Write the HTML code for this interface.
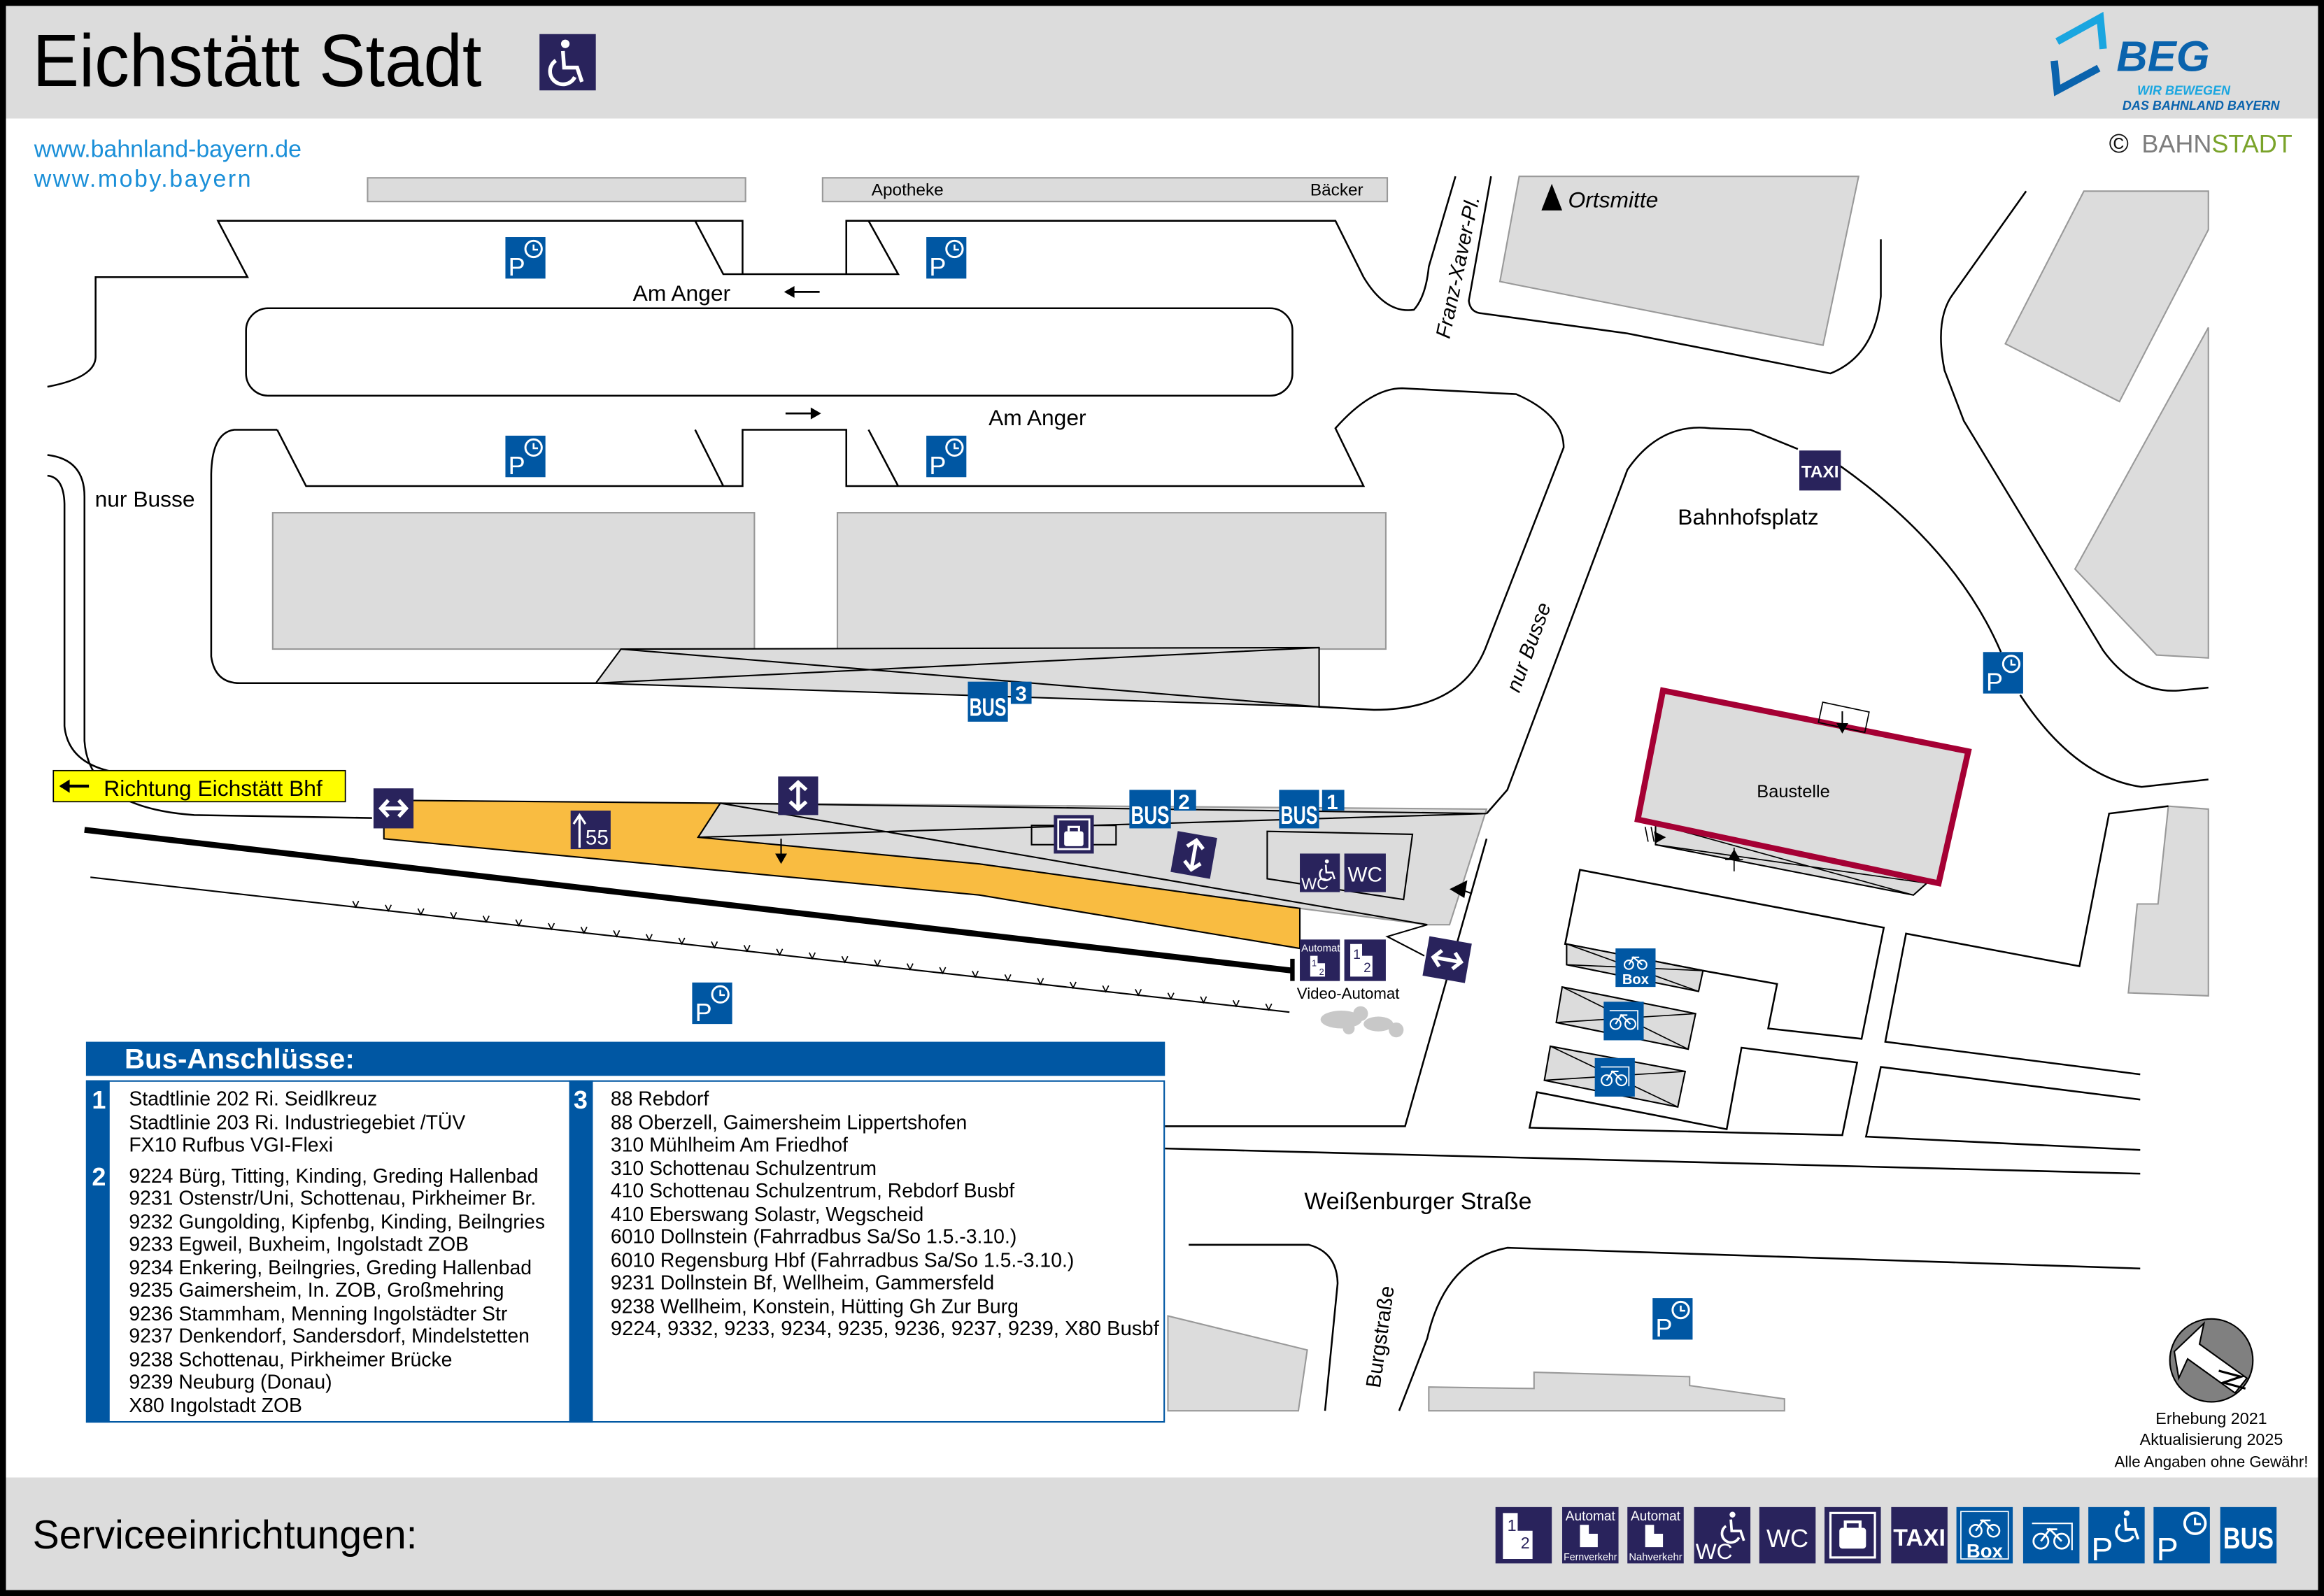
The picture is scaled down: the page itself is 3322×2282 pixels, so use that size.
<!DOCTYPE html>
<html><head><meta charset="utf-8"><style>
html,body{margin:0;padding:0;background:#fff}
svg{display:block}
text{font-family:"Liberation Sans",sans-serif}
</style></head><body>
<svg width="3322" height="2282" viewBox="0 0 1568 1077" preserveAspectRatio="none" xmlns="http://www.w3.org/2000/svg">
<rect x="0" y="0" width="1568" height="1077" fill="#fff"/>
<rect x="4" y="4" width="1560" height="76" fill="#dcdcdc"/>
<rect x="4" y="997" width="1560" height="76" fill="#dcdcdc"/>
<rect x="2" y="2" width="1564" height="1073" fill="none" stroke="#000" stroke-width="4"/>

<text x="22" y="58" font-size="50" textLength="303" lengthAdjust="spacingAndGlyphs" fill="#000">Eichstätt Stadt</text>
<rect x="364" y="23" width="38" height="38" fill="#29235c"/>
<g transform="translate(383,44) scale(1.6)" fill="none" stroke="#fff" stroke-width="1.6">
<circle cx="-1" cy="-9" r="1.8" fill="#fff" stroke="none"/>
<path d="M-2,-6 L-1.5,1 L4,1 L6,7"/>
<path d="M-5,-2 A5.5,5.5 0 1 0 3,5"/>
</g>

<polyline points="1388,28 1417,12 1419,33" fill="none" stroke="#1aa6e0" stroke-width="5"/>
<polyline points="1386,41 1388,61 1416,46" fill="none" stroke="#0a63ad" stroke-width="5"/>
<text x="1428" y="48" font-size="29" font-weight="bold" font-style="italic" fill="#0a63ad">BEG</text>
<text x="1442" y="64" font-size="8.5" font-weight="bold" font-style="italic" fill="#1aa6e0">WIR BEWEGEN</text>
<text x="1432" y="74" font-size="8.5" font-weight="bold" font-style="italic" fill="#0a63ad">DAS BAHNLAND BAYERN</text>
<text x="1423" y="103" font-size="18" fill="#111">©</text>
<text x="1445" y="103" font-size="17" fill="#7d7d7d">BAHN<tspan fill="#7aa32a">STADT</tspan></text>

<text x="23" y="106" font-size="16" fill="#1a8fd8">www.bahnland-bayern.de</text>
<text x="23" y="126" font-size="16" fill="#1a8fd8" letter-spacing="1.2">www.moby.bayern</text>

<rect x="248" y="120" width="255" height="16" fill="#dcdcdc" stroke="#999" stroke-width="1"/>
<rect x="555" y="120" width="381" height="16" fill="#dcdcdc" stroke="#999" stroke-width="1"/>
<text x="588" y="132" font-size="11.5">Apotheke</text>
<text x="884" y="132" font-size="11.5">Bäcker</text>

<g fill="none" stroke="#000" stroke-width="1.2">
<path d="M32,261 Q64,255 64.5,241 L64.5,187 L167,187 L147,149 L501,149 L501,185"/>
<path d="M469,149 L488,185 L606,185 L586,149"/>
<path d="M571,185 L571,149 L901,149 L920,187 Q935,212 954,209 Q962,200 964,180 L982,119"/>
<rect x="166" y="208" width="706" height="59" rx="15"/>
<path d="M187,290 L158,290 Q143,292 142.5,320 L142.5,443 Q145,461 162,461 L402,461"/>
<path d="M187,290 L206.5,328 L501,328 L501,290 L571,290 L571,328 L920,328 L901,289 Q925,262 946,262 L1023,266 Q1055,280 1055,302 L1002,438 Q985,479 927,479 L890,477"/>
<path d="M469,290 L488,328"/><path d="M586,290 L606,328"/>
<path d="M32,307 Q57,310 57,335 L57,500 Q60,545 131,550 L251,552"/>
<path d="M32,321 Q43,322 43.5,340 L43.5,490 Q46,515 77,521"/>
<path d="M1006,119 L991,203 Q992,211 1000,211.5 L1098,225 L1235,252 Q1265,240 1269,200 L1269,161.5"/>
<path d="M1003,549 L1017,533 L1098,317 Q1120,285 1154,289 L1181,290 L1213,303"/>
<path d="M1241,314 Q1320,370 1350,440"/>
<path d="M1363,469 Q1400,525 1445,531 L1490,526"/>
<path d="M1367,129 L1318,198 Q1305,215 1312,250 L1325,284 L1419,439 Q1440,468 1470,466 L1490,464"/>
<path d="M1003,566 L948,760 L786,760"/>
<path d="M786,775 L1444,792"/>
<path d="M802,840 L883,840 Q902,845 902.5,866 L894,952"/>
<path d="M1444,856 L1017,842 Q975,850 963,903 L944,952"/>
</g>

<g fill="#dcdcdc" stroke="#999" stroke-width="1">
<rect x="184" y="346" width="325" height="92"/>
<rect x="565" y="346" width="370" height="92"/>
<polygon points="1025,119 1254,119 1230,233 1012,190"/>
<polygon points="1406,129 1490,129 1490,155 1430,271 1353,232"/>
<polygon points="1490,221 1400,384 1455,442 1490,444"/>
<polygon points="1463,544 1490,546 1490,672 1436,670 1442,610 1456,610"/>
<polygon points="788,888 882,911 876,952 788,952"/>
<polygon points="964,952 964,936 1035,937 1035,926 1140,929 1140,935 1204,944 1204,952"/>
</g>
<g fill="#dcdcdc" stroke="#000" stroke-width="1">
<polygon points="419,438 890,437 890,477 402,461"/>
</g>
<path d="M419,438 L890,477 M402,461 L890,437" stroke="#000" stroke-width="1"/>

<g fill="none" stroke="#000" stroke-width="1.2">
<polygon points="1056,637 1066,587 1271,626 1256,701 1193,694 1199,664 1149,655"/>
<polyline points="1463,544 1423,549 1403,652 1286,630 1272,703 1444,725"/>
<polygon points="1037,737 1165,762 1175,707 1253,717 1243,766 1032,761"/>
<polyline points="1444,742 1269,720 1259,767 1444,776"/>
</g>
<g fill="#dcdcdc" stroke="#000" stroke-width="1">
<polygon points="1057,637 1149,655 1146,669 1057,651"/>
<polygon points="1054,666 1144,684 1139,708 1050,690"/>
<polygon points="1046,706 1137,723 1132,747 1042,729"/>
<polygon points="1117,556 1300,596 1291,604 1117,570"/>
</g>
<path d="M1057,637 L1146,669 M1057,651 L1149,655 M1054,666 L1139,708 M1050,690 L1144,684 M1046,706 L1132,747 M1042,729 L1137,723 M1117,556 L1291,604 M1117,570 L1300,596" stroke="#000" stroke-width="0.8"/>

<polygon points="1122,466 1328,507 1308,596 1105,553" fill="#dcdcdc" stroke="#a50034" stroke-width="4"/>
<text x="1210" y="538" font-size="12" text-anchor="middle">Baustelle</text>
<rect x="1228" y="477" width="32" height="14" fill="none" stroke="#000" stroke-width="0.8" transform="rotate(12 1244 484)"/>
<path d="M1243,480 L1243,492" stroke="#000"/><polygon points="1239,488 1247,488 1243,495"/>
<path d="M1110,558 L1112,568 M1114,558 L1116,568" stroke="#000" stroke-width="0.8"/><polygon points="1116,561 1124,565 1117,569"/>
<path d="M1170,572 L1170,588 M1164,580 L1176,580" stroke="#000" stroke-width="0.8"/><polygon points="1166,580 1174,580 1170,573"/>

<polygon points="486,542 1003,546 978,624 963,624 877,613 661,583 471,565" fill="#dcdcdc" stroke="#999" stroke-width="1"/>
<path d="M486,542 L1003,549 M471,565 L1003,549 M486,542 L963,624" stroke="#000" stroke-width="1" fill="none"/>
<polygon points="259,540 486,542 471,565 661,583 877,613 877,640 661,604 259,566" fill="#f9bc41" stroke="#000" stroke-width="1"/>
<polyline points="963,624 936,632 961,645" fill="none" stroke="#000"/>
<polygon points="855,561 953,563 947,607 855,593" fill="none" stroke="#000" stroke-width="1"/>
<line x1="57" y1="560" x2="872" y2="655" stroke="#000" stroke-width="4"/>
<line x1="872" y1="647" x2="872" y2="662" stroke="#000" stroke-width="3"/>
<line x1="61" y1="592" x2="870" y2="683" stroke="#000" stroke-width="1"/>
<path d="M238,608l2,4l2,-4 M260,610.6l2,4l2,-4 M282,613.1l2,4l2,-4 M304,615.6l2,4l2,-4 M326,618l2,4l2,-4 M348,620.5l2,4l2,-4 M370,623l2,4l2,-4 M392,625.5l2,4l2,-4 M414,627.9l2,4l2,-4 M436,630.4l2,4l2,-4 M458,632.9l2,4l2,-4 M480,635.4l2,4l2,-4 M502,637.8l2,4l2,-4 M524,640.3l2,4l2,-4 M546,642.8l2,4l2,-4 M568,645.3l2,4l2,-4 M590,647.7l2,4l2,-4 M612,650.2l2,4l2,-4 M634,652.7l2,4l2,-4 M656,655.2l2,4l2,-4 M678,657.6l2,4l2,-4 M700,660.1l2,4l2,-4 M722,662.6l2,4l2,-4 M744,665.1l2,4l2,-4 M766,667.5l2,4l2,-4 M788,670l2,4l2,-4 M810,672.5l2,4l2,-4 M832,675l2,4l2,-4 M854,677.4l2,4l2,-4" stroke="#000" stroke-width="0.8" fill="none"/>
<g fill="#c8c8c8"><ellipse cx="905" cy="688" rx="14" ry="6"/><circle cx="918" cy="684" r="5"/><ellipse cx="930" cy="691" rx="10" ry="5"/><circle cx="942" cy="695" r="5"/><circle cx="910" cy="694" r="4"/></g>

<text x="427" y="203" font-size="15">Am Anger</text>
<text x="667" y="287" font-size="15">Am Anger</text>
<path d="M553,197 L534,197" stroke="#000" stroke-width="1.3"/><polygon points="529,197 536,193 536,201"/>
<path d="M530,279 L548,279" stroke="#000" stroke-width="1.3"/><polygon points="554,279 547,275 547,283"/>
<text x="64" y="342" font-size="15">nur Busse</text>
<text x="1132" y="354" font-size="15">Bahnhofsplatz</text>
<polygon points="1040,142 1047,124 1054,142"/>
<text x="1058" y="140" font-size="15" font-style="italic">Ortsmitte</text>
<text font-size="14" font-style="italic" transform="translate(978,229) rotate(-78)">Franz-Xaver-Pl.</text>
<text font-size="14" font-style="italic" transform="translate(1025,468) rotate(-70)">nur Busse</text>
<text x="880" y="816" font-size="16">Weißenburger Straße</text>
<text font-size="14" transform="translate(931,937) rotate(-82)">Burgstraße</text>
<text x="875" y="674" font-size="10.5">Video-Automat</text>

<rect x="36" y="520" width="197" height="21" fill="#ffff00" stroke="#000" stroke-width="0.8"/>
<path d="M41,530.5 L60,530.5" stroke="#000" stroke-width="2"/><polygon points="40,530.5 47,526 47,535"/>
<text x="70" y="537" font-size="15">Richtung Eichstätt Bhf</text>

<g>
<g transform="translate(341,160)"><rect width="27" height="28" fill="#0057a3"/><text x="2" y="26" font-size="17" fill="#fff">P</text><circle cx="19" cy="8" r="5.5" fill="none" stroke="#fff" stroke-width="1.4"/><path d="M19,5v3.5h3" stroke="#fff" fill="none" stroke-width="1.2"/></g>
<g transform="translate(625,160)"><rect width="27" height="28" fill="#0057a3"/><text x="2" y="26" font-size="17" fill="#fff">P</text><circle cx="19" cy="8" r="5.5" fill="none" stroke="#fff" stroke-width="1.4"/><path d="M19,5v3.5h3" stroke="#fff" fill="none" stroke-width="1.2"/></g>
<g transform="translate(341,294)"><rect width="27" height="28" fill="#0057a3"/><text x="2" y="26" font-size="17" fill="#fff">P</text><circle cx="19" cy="8" r="5.5" fill="none" stroke="#fff" stroke-width="1.4"/><path d="M19,5v3.5h3" stroke="#fff" fill="none" stroke-width="1.2"/></g>
<g transform="translate(625,294)"><rect width="27" height="28" fill="#0057a3"/><text x="2" y="26" font-size="17" fill="#fff">P</text><circle cx="19" cy="8" r="5.5" fill="none" stroke="#fff" stroke-width="1.4"/><path d="M19,5v3.5h3" stroke="#fff" fill="none" stroke-width="1.2"/></g>
<g transform="translate(1338,440)"><rect width="27" height="28" fill="#0057a3"/><text x="2" y="26" font-size="17" fill="#fff">P</text><circle cx="19" cy="8" r="5.5" fill="none" stroke="#fff" stroke-width="1.4"/><path d="M19,5v3.5h3" stroke="#fff" fill="none" stroke-width="1.2"/></g>
<g transform="translate(467,663)"><rect width="27" height="28" fill="#0057a3"/><text x="2" y="26" font-size="17" fill="#fff">P</text><circle cx="19" cy="8" r="5.5" fill="none" stroke="#fff" stroke-width="1.4"/><path d="M19,5v3.5h3" stroke="#fff" fill="none" stroke-width="1.2"/></g>
<g transform="translate(1115,876)"><rect width="27" height="28" fill="#0057a3"/><text x="2" y="26" font-size="17" fill="#fff">P</text><circle cx="19" cy="8" r="5.5" fill="none" stroke="#fff" stroke-width="1.4"/><path d="M19,5v3.5h3" stroke="#fff" fill="none" stroke-width="1.2"/></g>
</g>

<rect x="653" y="460" width="27" height="27" fill="#0057a3"/><text x="654" y="483" font-size="17" font-weight="bold" fill="#fff" textLength="25" lengthAdjust="spacingAndGlyphs">BUS</text>
<rect x="682" y="460" width="14" height="15" fill="#0057a3"/><text x="685" y="473" font-size="14" font-weight="bold" fill="#fff">3</text>
<rect x="762" y="533" width="28" height="26" fill="#0057a3"/><text x="763" y="556" font-size="17" font-weight="bold" fill="#fff" textLength="26" lengthAdjust="spacingAndGlyphs">BUS</text>
<rect x="792" y="533" width="15" height="14" fill="#0057a3"/><text x="795" y="546" font-size="14" font-weight="bold" fill="#fff">2</text>
<rect x="863" y="533" width="27" height="26" fill="#0057a3"/><text x="864" y="556" font-size="17" font-weight="bold" fill="#fff" textLength="25" lengthAdjust="spacingAndGlyphs">BUS</text>
<rect x="892" y="533" width="15" height="14" fill="#0057a3"/><text x="895" y="546" font-size="14" font-weight="bold" fill="#fff">1</text>

<!-- double arrows -->
<rect x="252" y="532" width="27" height="27" fill="#29235c"/>
<path d="M257,545.5 H274 M262,540 L257,545.5 L262,551 M269,540 L274,545.5 L269,551" stroke="#fff" stroke-width="2.5" fill="none"/>
<rect x="525" y="524" width="27" height="26" fill="#29235c"/>
<path d="M538.5,528 V546 M533,533 L538.5,528 L544,533 M533,541 L538.5,546 L544,541" stroke="#fff" stroke-width="2.5" fill="none"/>
<rect x="385" y="547" width="27" height="26" fill="#29235c"/>
<path d="M391,572 V551 M387,556 L391,550 L395,556" stroke="#fff" stroke-width="1.5" fill="none"/>
<text x="395" y="570" font-size="14" fill="#fff">55</text>
<path d="M527,566 L527,578" stroke="#000"/><polygon points="523,576 531,576 527,583"/>
<g transform="rotate(10 806 577)"><rect x="792" y="563" width="27" height="28" fill="#29235c"/>
<path d="M805.5,567 V587 M800,572 L805.5,567 L811,572 M800,582 L805.5,587 L811,582" stroke="#fff" stroke-width="2.5" fill="none"/></g>
<rect x="696" y="557" width="57" height="13" fill="none" stroke="#000"/>
<rect x="711" y="550" width="27" height="26" fill="#29235c"/><rect x="714" y="553" width="21" height="20" fill="none" stroke="#fff" stroke-width="1.3"/><rect x="718" y="561" width="13" height="10" rx="1.5" fill="#fff"/><path d="M721,561 v-3 h7 v3" stroke="#fff" fill="none" stroke-width="1.5"/>
<rect x="877" y="576" width="27" height="26" fill="#29235c"/><text x="878" y="600" font-size="11" fill="#fff">WC</text>
<g transform="translate(896,588) scale(0.75)" fill="none" stroke="#fff" stroke-width="1.6"><circle cx="-1" cy="-9" r="1.8" fill="#fff" stroke="none"/><path d="M-2,-6 L-1.5,1 L4,1 L6,7"/><path d="M-5,-2 A5.5,5.5 0 1 0 3,5"/></g>
<rect x="907" y="576" width="28" height="26" fill="#29235c"/><text x="921" y="595" font-size="14" fill="#fff" text-anchor="middle">WC</text>
<polygon points="978,600 990,594 988,606"/><path d="M985,600 L993,603" stroke="#000"/>
<rect x="877" y="634" width="27" height="28" fill="#29235c"/><text x="878" y="642" font-size="7" fill="#fff">Automat</text><path d="M884,645 h5 v5 h5 v9 h-10 z" fill="#fff"/><text x="885" y="652" font-size="6" fill="#29235c">1</text><text x="890" y="658" font-size="6" fill="#29235c">2</text>
<rect x="907" y="634" width="28" height="28" fill="#29235c"/><path d="M911,637 h8 v8 h7 v14 h-15 z" fill="#fff"/><text x="913" y="647" font-size="9" fill="#29235c">1</text><text x="920" y="656" font-size="9" fill="#29235c">2</text>
<g transform="rotate(10 976 647)"><rect x="962" y="634" width="29" height="27" fill="#29235c"/>
<path d="M967,647.5 H986 M972,642 L967,647.5 L972,653 M981,642 L986,647.5 L981,653" stroke="#fff" stroke-width="2.5" fill="none"/></g>
<rect x="1214" y="304" width="28" height="27" fill="#29235c"/><text x="1228" y="322" font-size="11.5" font-weight="bold" fill="#fff" text-anchor="middle">TAXI</text>

<!-- bike icons -->
<rect x="1090" y="640" width="27" height="26" fill="#0057a3"/>
<g stroke="#fff" fill="none" stroke-width="1"><circle cx="1099" cy="651" r="3"/><circle cx="1108" cy="651" r="3"/><path d="M1099,651 L1102,646 L1108,651 M1101,646 L1106,646"/></g>
<text x="1103.5" y="664" font-size="9.5" font-weight="bold" fill="#fff" text-anchor="middle">Box</text>
<rect x="1082" y="676" width="27" height="26" fill="#0057a3"/><circle cx="1090" cy="691" r="3.5" fill="none" stroke="#fff"/><circle cx="1100" cy="691" r="3.5" fill="none" stroke="#fff"/><path d="M1090,691 L1094,685 L1100,691 M1093,685 L1098,685" stroke="#fff" fill="none"/><path d="M1086,682 H1105 V695" stroke="#fff" fill="none" stroke-width="0.8"/>
<rect x="1076" y="714" width="27" height="26" fill="#0057a3"/><circle cx="1084" cy="729" r="3.5" fill="none" stroke="#fff"/><circle cx="1094" cy="729" r="3.5" fill="none" stroke="#fff"/><path d="M1084,729 L1088,723 L1094,729 M1087,723 L1092,723" stroke="#fff" fill="none"/><path d="M1080,720 H1099 V733" stroke="#fff" fill="none" stroke-width="0.8"/>

<rect x="58" y="703" width="728" height="23" fill="#0057a3"/>
<text x="84" y="721" font-size="19" font-weight="bold" fill="#fff">Bus-Anschlüsse:</text>
<rect x="58.5" y="729.5" width="727" height="230" fill="#fff" stroke="#0057a3" stroke-width="1"/>
<rect x="58" y="729" width="16" height="231" fill="#0057a3"/>
<rect x="384" y="729" width="16" height="231" fill="#0057a3"/>
<text x="62" y="748" font-size="17" font-weight="bold" fill="#fff">1</text>
<text x="62" y="800" font-size="17" font-weight="bold" fill="#fff">2</text>
<text x="387" y="748" font-size="17" font-weight="bold" fill="#fff">3</text>
<g font-size="13.4" fill="#000">
<text x="87" y="746">Stadtlinie 202 Ri. Seidlkreuz</text>
<text x="87" y="762">Stadtlinie 203 Ri. Industriegebiet /TÜV</text>
<text x="87" y="777">FX10 Rufbus VGI-Flexi</text>
<text x="87" y="798">9224 Bürg, Titting, Kinding, Greding Hallenbad</text>
<text x="87" y="813">9231 Ostenstr/Uni, Schottenau, Pirkheimer Br.</text>
<text x="87" y="829">9232 Gungolding, Kipfenbg, Kinding, Beilngries</text>
<text x="87" y="844">9233 Egweil, Buxheim, Ingolstadt ZOB</text>
<text x="87" y="860">9234 Enkering, Beilngries, Greding Hallenbad</text>
<text x="87" y="875">9235 Gaimersheim, In. ZOB, Großmehring</text>
<text x="87" y="891">9236 Stammham, Menning Ingolstädter Str</text>
<text x="87" y="906">9237 Denkendorf, Sandersdorf, Mindelstetten</text>
<text x="87" y="922">9238 Schottenau, Pirkheimer Brücke</text>
<text x="87" y="937">9239 Neuburg (Donau)</text>
<text x="87" y="953">X80 Ingolstadt ZOB</text>
<text x="412" y="746">88 Rebdorf</text>
<text x="412" y="762">88 Oberzell, Gaimersheim Lippertshofen</text>
<text x="412" y="777">310 Mühlheim Am Friedhof</text>
<text x="412" y="793">310 Schottenau Schulzentrum</text>
<text x="412" y="808">410 Schottenau Schulzentrum, Rebdorf Busbf</text>
<text x="412" y="824">410 Eberswang Solastr, Wegscheid</text>
<text x="412" y="839">6010 Dollnstein (Fahrradbus Sa/So 1.5.-3.10.)</text>
<text x="412" y="855">6010 Regensburg Hbf (Fahrradbus Sa/So 1.5.-3.10.)</text>
<text x="412" y="870">9231 Dollnstein Bf, Wellheim, Gammersfeld</text>
<text x="412" y="886">9238 Wellheim, Konstein, Hütting Gh Zur Burg</text>
<text x="412" y="901" textLength="370" lengthAdjust="spacingAndGlyphs">9224, 9332, 9233, 9234, 9235, 9236, 9237, 9239, X80 Busbf</text>
</g>

<circle cx="1492" cy="918" r="28" fill="#808080" stroke="#000" stroke-width="1"/>
<polygon points="1467,912 1487,893 1484,907 1516,930 1508,940 1476,917 1470,930" fill="#fff" stroke="#000" stroke-width="1"/>
<path d="M1497,925 L1512,929 L1500,933 L1515,937" stroke="#000" fill="none" stroke-width="1.5"/>
<text x="1492" y="961" font-size="11" text-anchor="middle">Erhebung 2021</text>
<text x="1492" y="975" font-size="11" text-anchor="middle">Aktualisierung 2025</text>
<text x="1492" y="990" font-size="10.5" text-anchor="middle">Alle Angaben ohne Gewähr!</text>

<text x="22" y="1045" font-size="27">Serviceeinrichtungen:</text>
<g>
<rect x="1009" y="1017" width="38" height="38" fill="#29235c"/><path d="M1014,1021 h10 v12 h10 v19 h-20 z" fill="#fff"/><text x="1017" y="1033" font-size="11" fill="#29235c">1</text><text x="1026" y="1045" font-size="11" fill="#29235c">2</text>
<rect x="1054" y="1017" width="38" height="38" fill="#29235c"/><text x="1073" y="1026" font-size="9" fill="#fff" text-anchor="middle">Automat</text><path d="M1066,1029 h6 v6 h6 v9 h-12 z" fill="#fff"/><text x="1073" y="1053" font-size="7" fill="#fff" text-anchor="middle" textLength="36" lengthAdjust="spacingAndGlyphs">Fernverkehr</text>
<rect x="1098" y="1017" width="38" height="38" fill="#29235c"/><text x="1117" y="1026" font-size="9" fill="#fff" text-anchor="middle">Automat</text><path d="M1110,1029 h6 v6 h6 v9 h-12 z" fill="#fff"/><text x="1117" y="1053" font-size="7" fill="#fff" text-anchor="middle" textLength="36" lengthAdjust="spacingAndGlyphs">Nahverkehr</text>
<rect x="1143" y="1017" width="38" height="38" fill="#29235c"/><text x="1144" y="1052" font-size="15" fill="#fff">WC</text>
<g transform="translate(1170,1032) scale(1.1)" fill="none" stroke="#fff" stroke-width="1.6"><circle cx="-1" cy="-9" r="1.8" fill="#fff" stroke="none"/><path d="M-2,-6 L-1.5,1 L4,1 L6,7"/><path d="M-5,-2 A5.5,5.5 0 1 0 3,5"/></g>
<rect x="1187" y="1017" width="38" height="38" fill="#29235c"/><text x="1206" y="1044" font-size="17" fill="#fff" text-anchor="middle">WC</text>
<rect x="1231" y="1017" width="38" height="38" fill="#29235c"/><rect x="1235" y="1021" width="30" height="30" fill="none" stroke="#fff" stroke-width="1.5"/><rect x="1241" y="1031" width="18" height="14" rx="2" fill="#fff"/><path d="M1245,1031 v-4 h10 v4" stroke="#fff" fill="none" stroke-width="2"/>
<rect x="1276" y="1017" width="38" height="38" fill="#29235c"/><text x="1295" y="1043" font-size="16" font-weight="bold" fill="#fff" text-anchor="middle">TAXI</text>
<rect x="1320" y="1017" width="38" height="38" fill="#0057a3"/><rect x="1323" y="1020" width="32" height="32" fill="none" stroke="#fff" stroke-width="0.8"/>
<g stroke="#fff" fill="none" stroke-width="1.2"><circle cx="1333" cy="1033" r="4"/><circle cx="1345" cy="1033" r="4"/><path d="M1333,1033 L1338,1026 L1345,1033 M1336,1026 L1343,1026"/></g>
<text x="1339" y="1051" font-size="13" font-weight="bold" fill="#fff" text-anchor="middle">Box</text>
<rect x="1365" y="1017" width="38" height="38" fill="#0057a3"/><circle cx="1377" cy="1040" r="5" fill="none" stroke="#fff" stroke-width="1.3"/><circle cx="1391" cy="1040" r="5" fill="none" stroke="#fff" stroke-width="1.3"/><path d="M1377,1040 L1383,1032 L1391,1040 M1381,1032 L1388,1032" stroke="#fff" fill="none" stroke-width="1.3"/><path d="M1371,1028 H1398 V1046" stroke="#fff" fill="none" stroke-width="1"/>
<rect x="1409" y="1017" width="38" height="38" fill="#0057a3"/><text x="1411" y="1053" font-size="22" fill="#fff">P</text>
<g transform="translate(1436,1031) scale(1.1)" fill="none" stroke="#fff" stroke-width="1.6"><circle cx="-1" cy="-9" r="1.8" fill="#fff" stroke="none"/><path d="M-2,-6 L-1.5,1 L4,1 L6,7"/><path d="M-5,-2 A5.5,5.5 0 1 0 3,5"/></g>
<rect x="1453" y="1017" width="38" height="38" fill="#0057a3"/><text x="1455" y="1053" font-size="22" fill="#fff">P</text><circle cx="1481" cy="1028" r="7" fill="none" stroke="#fff" stroke-width="1.8"/><path d="M1481,1024v4.5h4" stroke="#fff" fill="none" stroke-width="1.5"/>
<rect x="1498" y="1017" width="38" height="38" fill="#0057a3"/><text x="1517" y="1045" font-size="20" font-weight="bold" fill="#fff" text-anchor="middle" textLength="34" lengthAdjust="spacingAndGlyphs">BUS</text>
</g>
</svg>
</body></html>
